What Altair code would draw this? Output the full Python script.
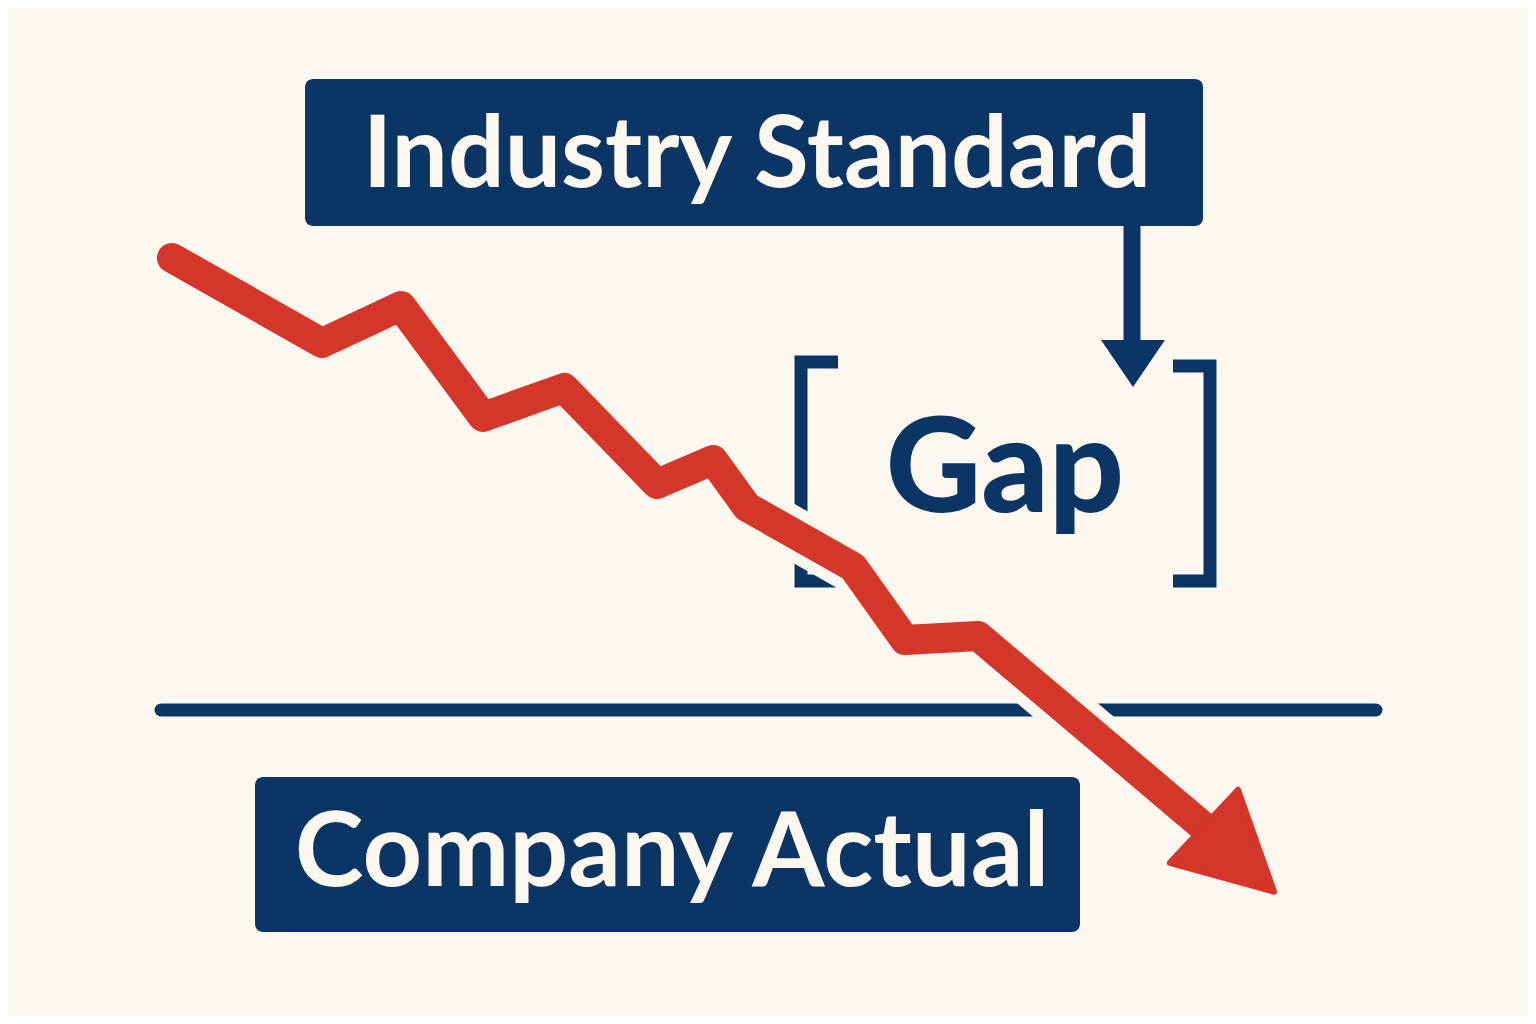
import altair as alt
import pandas as pd

# ---- data (pixel-space coordinates of the illustration) ----
red_x = [172, 322, 401, 483, 564, 657, 713, 747, 853, 905, 978, 1205]
red_y = [258, 343, 306, 417, 388, 484, 460, 507, 567, 640, 636, 828]

box_labels = ["Industry Standard", "Company Actual"]
box_x1 = [305, 255]
box_x2 = [1203, 1080]
box_y1 = [79, 777]
box_y2 = [226, 932]
label_x = [757, 672]
label_y = [187, 886]
label_size = [100, 104]

gap_label = ["Gap"]
gap_x = [1005]
gap_y = [512]

baseline_x1 = [161]
baseline_x2 = [1376]
baseline_y = [710]

bracket_id = ["L", "L", "L", "L", "R", "R", "R", "R"]
bracket_ord = [0, 1, 2, 3, 0, 1, 2, 3]
bracket_x = [838, 801, 801, 838, 1173, 1210, 1210, 1173]
bracket_y = [362, 362, 581, 581, 366, 366, 581, 581]

shaft_x = [1132]
shaft_y1 = [223]
shaft_y2 = [345]
navy_head_x = [1133]
navy_head_y = [363]

red_head_x = [1239]
red_head_y = [859]
red_head_angle = [43]

NAVY = "#0b3565"
RED = "#d5362a"
CREAM = "#fcf7ef"
FONT = "Lato"

xs = alt.Scale(domain=[8, 1528], nice=False, zero=False)
ys = alt.Scale(domain=[8, 1016], nice=False, zero=False, reverse=True)

def X(f):
    return alt.X(f, scale=xs, axis=None)

def Y(f):
    return alt.Y(f, scale=ys, axis=None)

boxes = pd.DataFrame({"label": box_labels, "x": box_x1, "x2": box_x2,
                      "y": box_y1, "y2": box_y2, "lx": label_x, "ly": label_y,
                      "fs": label_size})
red = pd.DataFrame({"x": red_x, "y": red_y, "o": list(range(len(red_x)))})
brackets = pd.DataFrame({"b": bracket_id, "o": bracket_ord, "x": bracket_x, "y": bracket_y})

rects = alt.Chart(boxes).mark_rect(color=NAVY, cornerRadius=8).encode(
    x=X("x:Q"), x2="x2:Q", y=Y("y:Q"), y2="y2:Q")

texts = alt.Chart(boxes).mark_text(
    color=CREAM, font=FONT, fontWeight="bold", align="center", baseline="alphabetic"
).encode(x=X("lx:Q"), y=Y("ly:Q"), text="label:N", size=alt.Size("fs:Q", scale=None, legend=None))

hline = alt.Chart(pd.DataFrame({"x": baseline_x1, "x2": baseline_x2, "y": baseline_y})).mark_rule(
    color=NAVY, strokeWidth=13, strokeCap="round").encode(x=X("x:Q"), x2="x2:Q", y=Y("y:Q"))

brk = alt.Chart(brackets).mark_line(
    color=NAVY, strokeWidth=13, strokeCap="butt", strokeJoin="miter").encode(
    x=X("x:Q"), y=Y("y:Q"), detail="b:N", order="o:Q")

shaft = alt.Chart(pd.DataFrame({"x": shaft_x, "y": shaft_y1, "y2": shaft_y2})).mark_rule(
    color=NAVY, strokeWidth=17, strokeCap="butt").encode(x=X("x:Q"), y=Y("y:Q"), y2="y2:Q")

navy_head = alt.Chart(pd.DataFrame({"x": navy_head_x, "y": navy_head_y})).mark_point(
    shape="M -32 -23 L 32 -23 L 0 24 Z", filled=True, size=4, color=NAVY, opacity=1).encode(
    x=X("x:Q"), y=Y("y:Q"))

gap = alt.Chart(pd.DataFrame({"t": gap_label, "x": gap_x, "y": gap_y})).mark_text(
    color=NAVY, font=FONT, fontWeight=900, fontSize=132, align="center", baseline="alphabetic"
).encode(x=X("x:Q"), y=Y("y:Q"), text="t:N")

halo = alt.Chart(red).mark_line(color=CREAM, strokeWidth=52, strokeCap="round", strokeJoin="round").encode(
    x=X("x:Q"), y=Y("y:Q"), order="o:Q")

red_line = alt.Chart(red).mark_line(color=RED, strokeWidth=30, strokeCap="round", strokeJoin="round").encode(
    x=X("x:Q"), y=Y("y:Q"), order="o:Q")

red_head = alt.Chart(pd.DataFrame({"x": red_head_x, "y": red_head_y, "a": red_head_angle})).mark_point(
    shape="M -48 -50 L 48 0 L -48 50 Z", filled=True, size=4, color=RED, opacity=1,
    stroke=RED, strokeWidth=6, strokeJoin="round").encode(
    x=X("x:Q"), y=Y("y:Q"), angle=alt.Angle("a:Q", scale=None))

chart = alt.layer(rects, texts, hline, brk, shaft, navy_head, gap, halo, red_line, red_head).properties(
    width=1520, height=1008, background=CREAM, padding=0,
    autosize=alt.AutoSizeParams(type="none")
).configure_view(stroke=None)

chart.save("out.html", embed_options={"renderer": "svg", "actions": False})
